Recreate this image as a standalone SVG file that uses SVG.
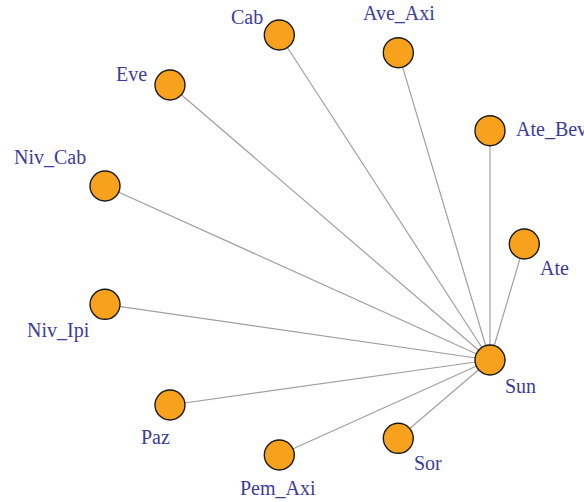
<svg xmlns="http://www.w3.org/2000/svg" width="584" height="502" viewBox="0 0 584 502">
<style>
.e{stroke:#a0a0a0;stroke-width:1.2;fill:none}
.n{fill:#f8a11c;stroke:#1a1a1a;stroke-width:1.4}
.t{font-size:20px;fill:#3c3c9c}
</style>
<rect width="584" height="502" fill="#ffffff"/>
<g id="edges">
<line class="e" x1="490" y1="360" x2="279.3" y2="35"/>
<line class="e" x1="490" y1="360" x2="398.3" y2="52.7"/>
<line class="e" x1="490" y1="360" x2="170" y2="85"/>
<line class="e" x1="490" y1="360" x2="490" y2="130.7"/>
<line class="e" x1="490" y1="360" x2="105" y2="186"/>
<line class="e" x1="490" y1="360" x2="524.3" y2="244"/>
<line class="e" x1="490" y1="360" x2="105" y2="304.3"/>
<line class="e" x1="490" y1="360" x2="170" y2="405"/>
<line class="e" x1="490" y1="360" x2="398.3" y2="438.3"/>
<line class="e" x1="490" y1="360" x2="279.3" y2="455"/>
</g>
<g font-family="Liberation Serif, serif">
<g id="Cab"><circle class="n" cx="279.3" cy="35" r="15"/><text class="t" x="231" y="24">Cab</text></g>
<g id="Ave_Axi"><circle class="n" cx="398.3" cy="52.7" r="15"/><text class="t" x="363" y="20">Ave_Axi</text></g>
<g id="Eve"><circle class="n" cx="170" cy="85" r="15"/><text class="t" x="116" y="81">Eve</text></g>
<g id="Ate_Bev"><circle class="n" cx="490" cy="130.7" r="15"/><text class="t" x="516" y="136">Ate_Bev</text></g>
<g id="Niv_Cab"><circle class="n" cx="105" cy="186" r="15"/><text class="t" x="14" y="164">Niv_Cab</text></g>
<g id="Ate"><circle class="n" cx="524.3" cy="244" r="15"/><text class="t" x="540" y="275">Ate</text></g>
<g id="Niv_Ipi"><circle class="n" cx="105" cy="304.3" r="15"/><text class="t" x="27" y="337">Niv_Ipi</text></g>
<g id="Sun"><circle class="n" cx="490" cy="360" r="15"/><text class="t" x="505" y="393">Sun</text></g>
<g id="Paz"><circle class="n" cx="170" cy="405" r="15"/><text class="t" x="141" y="444">Paz</text></g>
<g id="Sor"><circle class="n" cx="398.3" cy="438.3" r="15"/><text class="t" x="414" y="470">Sor</text></g>
<g id="Pem_Axi"><circle class="n" cx="279.3" cy="455" r="15"/><text class="t" x="240" y="495">Pem_Axi</text></g>
</g>
</svg>
